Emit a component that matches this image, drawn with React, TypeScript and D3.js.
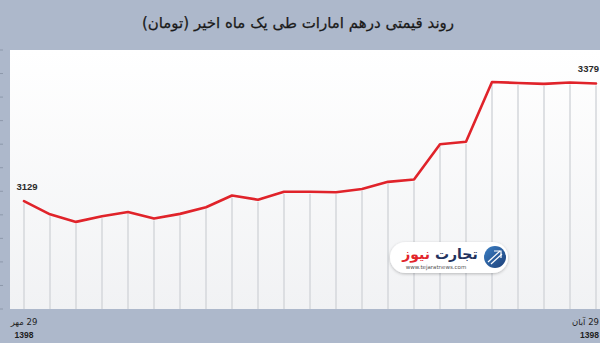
import React from "react";
import * as d3 from "d3";

// Daily AED price in Toman over one month (29 Mehr to 29 Aban 1398)
const days: number[] = d3.range(23);
const prices: number[] = [
  3129, 3101, 3085, 3097, 3106, 3092, 3102, 3116, 3141, 3132, 3149, 3149,
  3148, 3155, 3170, 3175, 3250, 3255, 3382, 3380, 3378, 3381, 3379,
];
const dayLabels: string[] = ["29 مهر", "29 آبان"];
const yearLabels: string[] = ["1398", "1398"];
const title = "روند قیمتی درهم امارات طی یک ماه اخیر (تومان)";

const W = 600;
const H = 343;
const plot = { left: 10, top: 50, right: 610, bottom: 309 };
const BG = "#adb8cb";
const faFont = "'DejaVu Sans', sans-serif";

export default function App() {
  const x = d3
    .scalePoint<number>()
    .domain(days)
    .range([24, 596]);
  const y = d3.scaleLinear().domain([2900, 3450]).range([plot.bottom, plot.top]);

  const line = d3
    .line<number>()
    .x((_, i) => x(days[i]) as number)
    .y((d) => y(d));

  const yTicks = d3.range(2900, 3451, 50);
  const first = 0;
  const last = days.length - 1;

  // labels at the right end are kept inside the frame
  const labelX = (i: number) => (i === first ? (x(days[i]) as number) : W - 1);
  const ltrAnchor = (i: number) => (i === first ? "middle" : "end");
  // for right-to-left text "start" is the right edge
  const rtlAnchor = (i: number) => (i === first ? "middle" : "start");

  return (
    <div style={{ position: "fixed", left: 0, top: 0 }}>
      <svg width={W} height={H} style={{ display: "block" }}>
        <defs>
          <linearGradient id="plotFill" x1="0" y1="0" x2="0" y2="1">
            <stop offset="0" stopColor="#ffffff" />
            <stop offset="1" stopColor="#f1f2f4" />
          </linearGradient>
          <linearGradient id="logoBlue" x1="0" y1="0" x2="1" y2="1">
            <stop offset="0" stopColor="#3b7fc4" />
            <stop offset="1" stopColor="#1d3f78" />
          </linearGradient>
          <filter id="logoShadow" x="-10%" y="-30%" width="120%" height="160%">
            <feDropShadow dx="0" dy="1" stdDeviation="1.5" floodColor="#000" floodOpacity="0.25" />
          </filter>
        </defs>

        <rect x={0} y={0} width={W} height={H} fill={BG} />

        <text
          x={298}
          y={28}
          textAnchor="middle"
          direction="rtl"
          fontFamily={faFont}
          fontSize={15}
          fill="#1a1a1a"
          stroke="#1a1a1a"
          strokeWidth={0.25}
        >
          {title}
        </text>

        {/* left axis ticks on the frame */}
        {yTicks.map((t) => (
          <line key={t} x1={0} x2={3} y1={y(t)} y2={y(t)} stroke="#8e99ab" strokeWidth={1} />
        ))}

        <rect
          x={plot.left}
          y={plot.top}
          width={plot.right - plot.left}
          height={plot.bottom - plot.top}
          fill="url(#plotFill)"
        />

        {/* drop lines from each point */}
        {prices.map((v, i) => (
          <line
            key={i}
            x1={x(days[i])}
            x2={x(days[i])}
            y1={y(v) + 2}
            y2={plot.bottom}
            stroke="#d5d7db"
            strokeWidth={1.5}
          />
        ))}

        {/* logo */}
        <g filter="url(#logoShadow)">
          <rect x={390} y={242} width={118} height={31} rx={15.5} fill="#ffffff" />
        </g>
        <circle cx={495} cy={257} r={11} fill="url(#logoBlue)" />
        <g stroke="#ffffff" strokeWidth={1.2} fill="none">
          <path d="M488 262 L500 251" />
          <path d="M491 264 L502 254" />
          <path d="M494 251 L501 251 L501 258" />
        </g>
        <text
          x={440}
          y={259}
          textAnchor="middle"
          direction="rtl"
          fontFamily={faFont}
          fontWeight="bold"
          fontSize={14}
        >
          <tspan fill="#23325e">تجارت </tspan>
          <tspan fill="#e2252b">نیوز</tspan>
        </text>
        <text
          x={436}
          y={269}
          textAnchor="middle"
          fontFamily="'DejaVu Sans', sans-serif"
          fontSize={5.5}
          fill="#555"
        >
          www.tejaratnews.com
        </text>

        <path
          d={line(prices) ?? ""}
          fill="none"
          stroke="#e0232a"
          strokeWidth={2.6}
          strokeLinejoin="round"
          strokeLinecap="round"
        />

        {/* end value labels */}
        {[first, last].map((i) => (
          <text
            key={i}
            x={i === first ? (x(days[i]) as number) + 3 : W - 1}
            y={y(prices[i]) - 11}
            textAnchor={ltrAnchor(i)}
            fontFamily="'Liberation Sans', Arial, sans-serif"
            fontWeight="bold"
            fontSize={9.5}
            fill="#2a2a2a"
          >
            {prices[i]}
          </text>
        ))}

        {/* end date labels */}
        {[first, last].map((i, k) => (
          <g key={i}>
            <text
              x={labelX(i)}
              y={325}
              textAnchor={rtlAnchor(i)}
              direction="rtl"
              fontFamily={faFont}
              fontSize={8.5}
              fill="#1e1e1e"
            >
              {dayLabels[k]}
            </text>
            <text
              x={labelX(i)}
              y={338}
              textAnchor={ltrAnchor(i)}
              fontFamily="'Liberation Sans', Arial, sans-serif"
              fontWeight="bold"
              fontSize={8.5}
              fill="#1e1e1e"
            >
              {yearLabels[k]}
            </text>
          </g>
        ))}
      </svg>
    </div>
  );
}
